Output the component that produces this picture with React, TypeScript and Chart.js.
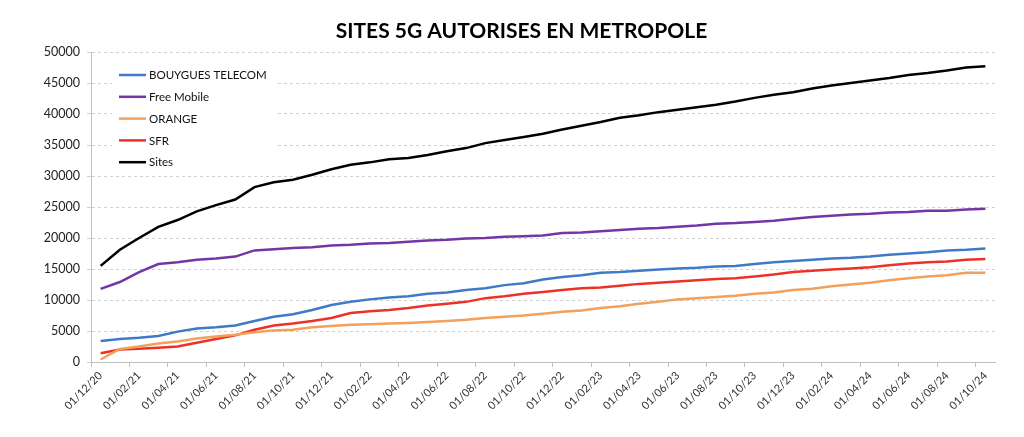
import React, { useEffect, useRef } from 'react';
import { Chart, registerables } from 'chart.js';

Chart.register(...registerables);

const TITLE = 'SITES 5G AUTORISES EN METROPOLE';

const months = [
  '01/12/20',
  '01/01/21', '01/02/21', '01/03/21', '01/04/21', '01/05/21', '01/06/21', '01/07/21', '01/08/21', '01/09/21', '01/10/21', '01/11/21', '01/12/21',
  '01/01/22', '01/02/22', '01/03/22', '01/04/22', '01/05/22', '01/06/22', '01/07/22', '01/08/22', '01/09/22', '01/10/22', '01/11/22', '01/12/22',
  '01/01/23', '01/02/23', '01/03/23', '01/04/23', '01/05/23', '01/06/23', '01/07/23', '01/08/23', '01/09/23', '01/10/23', '01/11/23', '01/12/23',
  '01/01/24', '01/02/24', '01/03/24', '01/04/24', '01/05/24', '01/06/24', '01/07/24', '01/08/24', '01/09/24', '01/10/24',
];

const bouygues = [3400, 3700, 3900, 4200, 4900, 5400, 5600, 5900, 6600, 7300, 7700, 8400, 9200, 9700, 10100, 10400,
  10600, 11000, 11200, 11600, 11900, 12400, 12700, 13300, 13700, 14000, 14400, 14500, 14700, 14900, 15100, 15200,
  15400, 15500, 15800, 16100, 16300, 16500, 16700, 16800, 17000, 17300, 17500, 17700, 18000, 18100, 18300];

const freeMobile = [11800, 12900, 14500, 15800, 16100, 16500, 16700, 17000, 18000, 18200, 18400, 18500, 18800, 18900, 19100, 19200,
  19400, 19600, 19700, 19900, 20000, 20200, 20300, 20400, 20800, 20900, 21100, 21300, 21500, 21600, 21800, 22000,
  22300, 22400, 22600, 22800, 23100, 23400, 23600, 23800, 23900, 24100, 24200, 24400, 24400, 24600, 24700];

const orange = [400, 2100, 2500, 3000, 3300, 3800, 4100, 4400, 4800, 5100, 5200, 5600, 5800, 6000, 6100, 6200,
  6300, 6450, 6600, 6800, 7100, 7300, 7500, 7800, 8100, 8300, 8700, 9000, 9400, 9700, 10100, 10300,
  10500, 10700, 11000, 11200, 11600, 11800, 12200, 12500, 12800, 13200, 13500, 13800, 14000, 14400, 14400];

const sfr = [1400, 2000, 2150, 2300, 2500, 3100, 3700, 4300, 5200, 5900, 6200, 6600, 7100, 7900, 8200, 8400,
  8700, 9100, 9400, 9700, 10300, 10600, 11000, 11300, 11600, 11900, 12000, 12300, 12600, 12800, 13000, 13200,
  13400, 13500, 13800, 14100, 14500, 14700, 14900, 15100, 15300, 15600, 15900, 16100, 16200, 16500, 16600];

const sites = [15500, 18100, 20000, 21800, 22900, 24300, 25300, 26200, 28200, 29000, 29400, 30200, 31100, 31800, 32200, 32700,
  32900, 33400, 34000, 34500, 35300, 35800, 36300, 36800, 37500, 38100, 38700, 39400, 39800, 40300, 40700, 41100,
  41500, 42000, 42600, 43100, 43500, 44100, 44600, 45000, 45400, 45800, 46300, 46600, 47000, 47500, 47700];

const seriesNames = ['BOUYGUES TELECOM', 'Free Mobile', 'ORANGE', 'SFR', 'Sites'];
const seriesColors = ['#3F7AC6', '#7336A6', '#F2A05C', '#EC3226', '#000000'];

const titlePlugin = {
  id: 'customTitle',
  afterDraw(chart: any) {
    const ctx = chart.ctx;
    ctx.save();
    ctx.font = 'bold 21px Lato';
    ctx.fillStyle = '#000000';
    ctx.textAlign = 'center';
    ctx.textBaseline = 'middle';
    ctx.fillText(TITLE, 521.5, 31);
    ctx.restore();
  },
};

const legendPlugin = {
  id: 'insideLegend',
  afterDatasetsDraw(chart: any) {
    const ctx = chart.ctx;
    const area = chart.chartArea;
    const x0 = area.left + 28;
    const y0 = area.top + 23;
    ctx.save();
    ctx.fillStyle = '#ffffff';
    ctx.fillRect(area.left + 21, area.top + 10, 164, 111);
    ctx.font = '11.5px Lato';
    ctx.textBaseline = 'middle';
    ctx.textAlign = 'left';
    chart.data.datasets.forEach((ds: any, k: number) => {
      const y = y0 + k * 21.8;
      ctx.strokeStyle = ds.borderColor;
      ctx.lineWidth = 2.5;
      ctx.beginPath();
      ctx.moveTo(x0, y);
      ctx.lineTo(x0 + 27, y);
      ctx.stroke();
      ctx.fillStyle = '#111111';
      ctx.fillText(ds.label, x0 + 30, y + 0.5);
    });
    ctx.restore();
  },
};

export default function App() {
  const ref = useRef<HTMLCanvasElement>(null);

  useEffect(() => {
    if (!ref.current) return;
    const values = [bouygues, freeMobile, orange, sfr, sites];
    const chart = new Chart(ref.current, {
      type: 'line',
      data: {
        labels: months,
        datasets: values.map((v, k) => ({
          label: seriesNames[k],
          data: v,
          borderColor: seriesColors[k],
          backgroundColor: seriesColors[k],
          borderWidth: 2.5,
          pointRadius: 0,
          tension: 0,
          fill: false,
        })),
      },
      options: {
        animation: false,
        responsive: true,
        maintainAspectRatio: false,
        layout: { padding: { top: 52, right: 29, left: 0, bottom: 0 } },
        plugins: {
          legend: { display: false },
          title: { display: false },
          tooltip: { enabled: false },
        },
        scales: {
          x: {
            type: 'category',
            offset: true,
            grid: {
              offset: true,
              drawOnChartArea: false,
              drawTicks: true,
              tickLength: 5,
              color: (c: any) => (c.index % 2 === 0 ? '#bfbfbf' : 'rgba(0,0,0,0)'),
            },
            border: { display: true, color: '#bfbfbf', width: 1 },
            ticks: {
              autoSkip: false,
              maxRotation: 45,
              minRotation: 45,
              padding: 2,
              color: '#333333',
              font: { family: 'Lato', size: 11 },
              callback: (_v: any, i: number) => (i % 2 === 0 ? months[i] : ''),
            },
            afterFit: (s: any) => { s.height = 75; },
          },
          y: {
            min: 0,
            max: 50000,
            ticks: {
              stepSize: 5000,
              padding: 7,
              color: '#222222',
              font: { family: 'Lato', size: 12.5 },
              callback: (v: any) => String(v),
            },
            grid: {
              color: '#d0d0d0',
              tickLength: 4,
              lineWidth: 1,
            },
            border: { display: true, color: '#bfbfbf', width: 1, dash: [3, 3] },
            afterFit: (s: any) => { s.width = 91; },
          },
        },
      },
      plugins: [legendPlugin, titlePlugin],
    });
    return () => chart.destroy();
  }, []);

  return (
    <div style={{ position: 'fixed', left: 0, top: 0, width: 1024, height: 437, background: '#ffffff' }}>
      <canvas ref={ref} />
    </div>
  );
}
